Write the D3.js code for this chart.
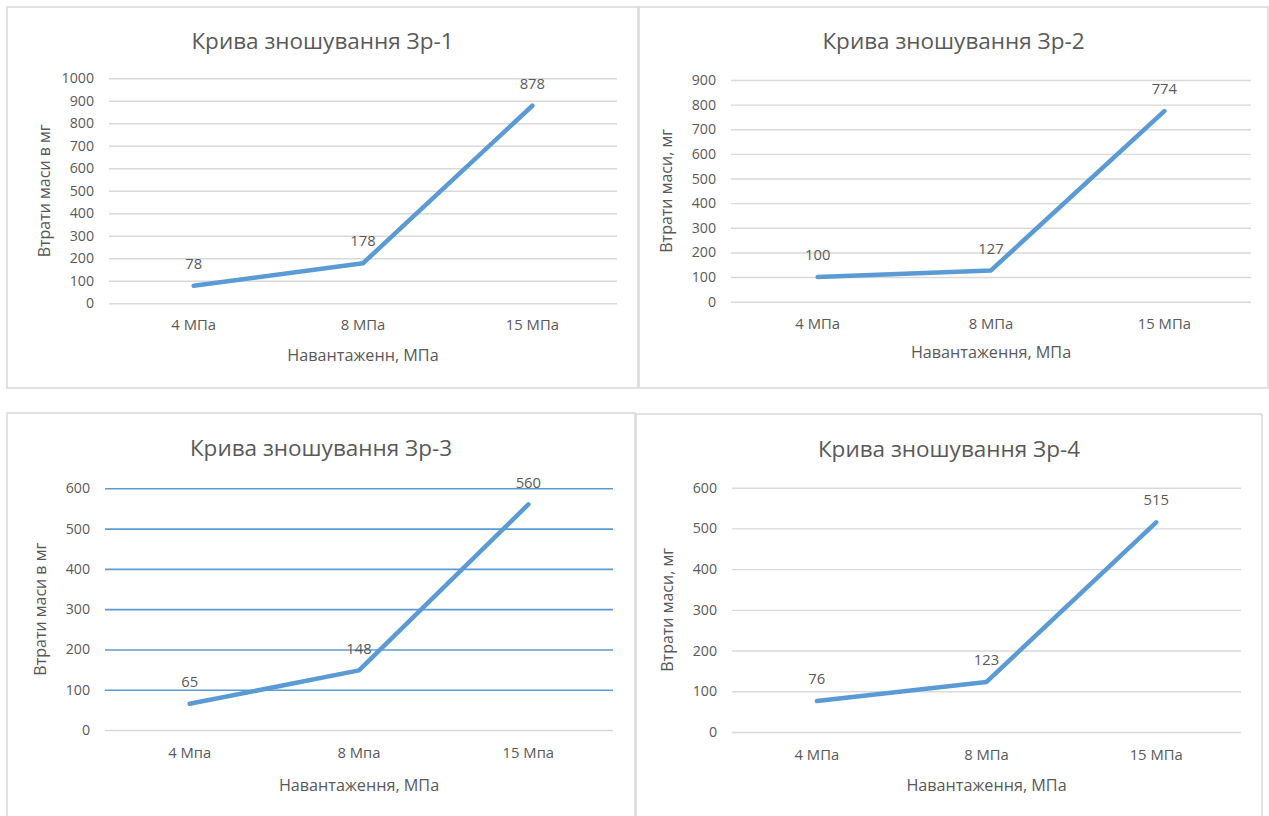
<!DOCTYPE html>
<html>
<head>
<meta charset="utf-8">
<script src="https://cdn.jsdelivr.net/npm/d3@7"></script>
<style>
  html, body { margin: 0; padding: 0; background: #ffffff; }
  svg { display: block; }
  text { font-family: "Open Sans", "Noto Sans", sans-serif; fill: #595959; }
</style>
</head>
<body>
<svg id="chart" width="1269" height="816"></svg>
<script>
// ---- data ----
const categoriesA = ["4 МПа", "8 МПа", "15 МПа"];
const categoriesB = ["4 Мпа", "8 Мпа", "15 Мпа"];

const values1 = [78, 178, 878];
const values2 = [100, 127, 774];
const values3 = [65, 148, 560];
const values4 = [76, 123, 515];

const ticks1 = [0, 100, 200, 300, 400, 500, 600, 700, 800, 900, 1000];
const ticks2 = [0, 100, 200, 300, 400, 500, 600, 700, 800, 900];
const ticks3 = [0, 100, 200, 300, 400, 500, 600];
const ticks4 = [0, 100, 200, 300, 400, 500, 600];

const titles = ["Крива зношування Зр-1", "Крива зношування Зр-2", "Крива зношування Зр-3", "Крива зношування Зр-4"];
const yTitles = ["Втрати маси в мг", "Втрати маси, мг", "Втрати маси в мг", "Втрати маси, мг"];
const xTitles = ["Навантаженн, МПа", "Навантаження, МПа", "Навантаження, МПа", "Навантаження, МПа"];

// ---- layout (positions only) ----
const panels = [
  { box: [7, 7, 631, 381],   plot: [109, 617, 78.3, 303.3], cats: categoriesA, vals: values1, ticks: ticks1, blueGrid: false, xlabDy: 22, xtitleDy: 52 },
  { box: [639, 7, 629, 381], plot: [731, 1251, 80, 301.7], cats: categoriesA, vals: values2, ticks: ticks2, blueGrid: false, xlabDy: 22, xtitleDy: 51 },
  { box: [7, 413, 628, 420], plot: [105, 613, 488.3, 730], cats: categoriesB, vals: values3, ticks: ticks3, blueGrid: true, xlabDy: 23, xtitleDy: 55 },
  { box: [636, 414, 626, 420], plot: [732, 1241, 487.7, 732], cats: categoriesA, vals: values4, ticks: ticks4, blueGrid: false, xlabDy: 23, xtitleDy: 53 }
];

const svg = d3.select("#chart");
svg.append("rect").attr("width", 1269).attr("height", 816).attr("fill", "#ffffff");

const lineColor = "#5B9BD5";

panels.forEach((p, i) => {
  const [bx, by, bw, bh] = p.box;
  const [x0, x1, yTop, yBot] = p.plot;
  const g = svg.append("g");

  g.append("rect")
    .attr("x", bx).attr("y", by).attr("width", bw).attr("height", bh)
    .attr("fill", "#ffffff").attr("stroke", "#D9D9D9").attr("stroke-width", 1.5);

  const x = d3.scaleBand().domain(p.cats).range([x0, x1]);
  const y = d3.scaleLinear().domain([0, d3.max(p.ticks)]).range([yBot, yTop]);

  // gridlines + y tick labels
  const yAxis = d3.axisLeft(y).tickValues(p.ticks).tickSize(-(x1 - x0)).tickPadding(15).tickFormat(d3.format("d"));
  const ga = g.append("g").attr("transform", `translate(${x0},0)`).call(yAxis);
  ga.select(".domain").remove();
  ga.selectAll(".tick line")
    .attr("stroke", d => (p.blueGrid && d !== 0) ? "#5B9BD5" : "#D9D9D9")
    .attr("stroke-width", d => (p.blueGrid && d !== 0) ? 1.6 : 1.4);
  ga.selectAll(".tick text")
    .attr("font-size", 14.2).attr("fill", "#595959")
    .style("font-family", "'Open Sans', sans-serif");

  // x axis labels
  const xAxis = d3.axisBottom(x).tickSize(0).tickPadding(0);
  const gx = g.append("g").attr("transform", `translate(0,${yBot})`).call(xAxis);
  gx.select(".domain").remove();
  gx.selectAll(".tick text")
    .attr("y", p.xlabDy).attr("dy", "0.35em")
    .attr("font-size", 14.8).attr("fill", "#595959")
    .style("font-family", "'Open Sans', sans-serif");

  // line
  const line = d3.line()
    .x((d, j) => x(p.cats[j]) + x.bandwidth() / 2)
    .y(d => y(d));
  g.append("path")
    .datum(p.vals)
    .attr("d", line)
    .attr("fill", "none")
    .attr("stroke", lineColor)
    .attr("stroke-width", 4.5)
    .attr("stroke-linejoin", "round")
    .attr("stroke-linecap", "round");

  // data labels
  g.selectAll(".dl")
    .data(p.vals)
    .enter().append("text")
    .attr("x", (d, j) => x(p.cats[j]) + x.bandwidth() / 2)
    .attr("y", d => y(d) - 22)
    .attr("dy", "0.35em")
    .attr("text-anchor", "middle")
    .attr("font-size", 14.8)
    .text(d => d);

  // title
  g.append("text")
    .attr("x", bx + bw / 2)
    .attr("y", (i < 2 ? by + 34 : by + 35))
    .attr("dy", "0.35em")
    .attr("text-anchor", "middle")
    .attr("font-size", 22.5)
    .text(titles[i]);

  // x title
  g.append("text")
    .attr("x", (x0 + x1) / 2)
    .attr("y", yBot + p.xtitleDy)
    .attr("dy", "0.35em")
    .attr("text-anchor", "middle")
    .attr("font-size", 16.2)
    .text(xTitles[i]);

  // y title
  const ytx = x0 - 65;
  const yty = (yTop + yBot) / 2;
  g.append("text")
    .attr("transform", `translate(${ytx},${yty}) rotate(-90)`)
    .attr("dy", "0.35em")
    .attr("text-anchor", "middle")
    .attr("font-size", 16)
    .text(yTitles[i]);
});
</script>
</body>
</html>
